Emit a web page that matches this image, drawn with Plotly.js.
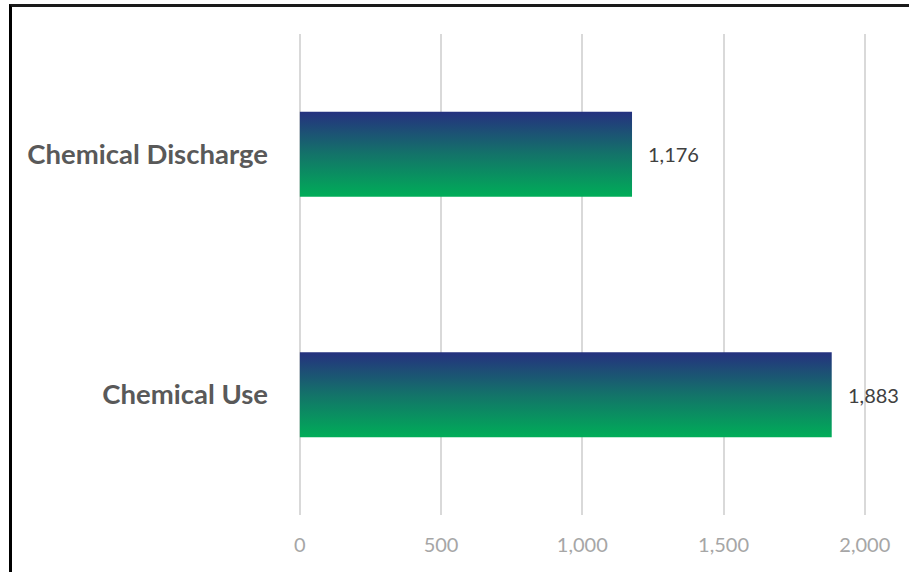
<!DOCTYPE html>
<html>
<head>
<meta charset="utf-8">
<script src="https://cdn.plot.ly/plotly-3.0.1.min.js"></script>
<style>
  html, body { margin: 0; padding: 0; overflow: hidden; background: #fff; }
  #chart { position: absolute; left: 0; top: 0; width: 909px; height: 572px; }
  #frame { position: absolute; left: 9px; top: 4px; width: 1200px; height: 1200px;
           border-left: 3px solid #000; border-top: 3px solid #1a1a1a; pointer-events: none; }
</style>
</head>
<body>
<div id="chart"></div>
<div id="frame"></div>
<script>
const categories = ['Chemical Discharge', 'Chemical Use'];
const values = [1176, 1883];
const tickValues = [0, 500, 1000, 1500, 2000];
const tickLabels = ['0', '500', '1,000', '1,500', '2,000'];

const FONT = 'Lato, "Open Sans", sans-serif';

const trace = {
  type: 'bar',
  orientation: 'h',
  y: categories,
  x: values,
  width: 0.353,
  marker: { color: '#12706c', line: { width: 0 } },
  hoverinfo: 'none'
};

const annotations = values.map((v, i) => ({
  x: v, y: categories[i], xref: 'x', yref: 'y',
  text: v.toLocaleString('en-US'),
  showarrow: false, xanchor: 'left', yanchor: 'middle', xshift: 14,
  font: { family: FONT, size: 20, color: '#404040' }
}));

const layout = {
  width: 909, height: 572,
  margin: { l: 299, r: 40, t: 34, b: 57 },
  paper_bgcolor: 'rgba(0,0,0,0)',
  plot_bgcolor: '#ffffff',
  showlegend: false,
  xaxis: {
    range: [-3, 2015],
    tickvals: tickValues, ticktext: tickLabels,
    showgrid: true, gridcolor: '#d9d9d9', gridwidth: 2,
    zeroline: true, zerolinecolor: '#d9d9d9', zerolinewidth: 2,
    showline: false, ticks: '',
    ticklabelstandoff: 16,
    tickfont: { family: FONT, size: 20, color: '#a6a6a6' },
    fixedrange: true
  },
  yaxis: {
    type: 'category',
    autorange: 'reversed',
    showgrid: false, zeroline: false, showline: false, ticks: '',
    ticklabelstandoff: 30,
    tickfont: { family: FONT, size: 27.5, color: '#595959', weight: 'bold' },
    fixedrange: true
  },
  annotations: annotations
};

Plotly.newPlot('chart', [trace], layout, { displayModeBar: false, staticPlot: true }).then(gd => {
  const svg = gd.querySelector('svg.main-svg');
  const ns = 'http://www.w3.org/2000/svg';
  let defs = svg.querySelector('defs');
  if (!defs) { defs = document.createElementNS(ns, 'defs'); svg.insertBefore(defs, svg.firstChild); }
  const grad = document.createElementNS(ns, 'linearGradient');
  grad.setAttribute('id', 'barGrad');
  grad.setAttribute('x1', '0'); grad.setAttribute('y1', '0');
  grad.setAttribute('x2', '0'); grad.setAttribute('y2', '1');
  [['0', '#25317f'], ['0.5', '#137369'], ['1', '#00ad58']].forEach(([o, c]) => {
    const s = document.createElementNS(ns, 'stop');
    s.setAttribute('offset', o); s.setAttribute('stop-color', c);
    grad.appendChild(s);
  });
  defs.appendChild(grad);
  gd.querySelectorAll('.bars .point path').forEach(p => {
    p.style.setProperty('fill', 'url(#barGrad)');
  });
});
</script>
</body>
</html>
